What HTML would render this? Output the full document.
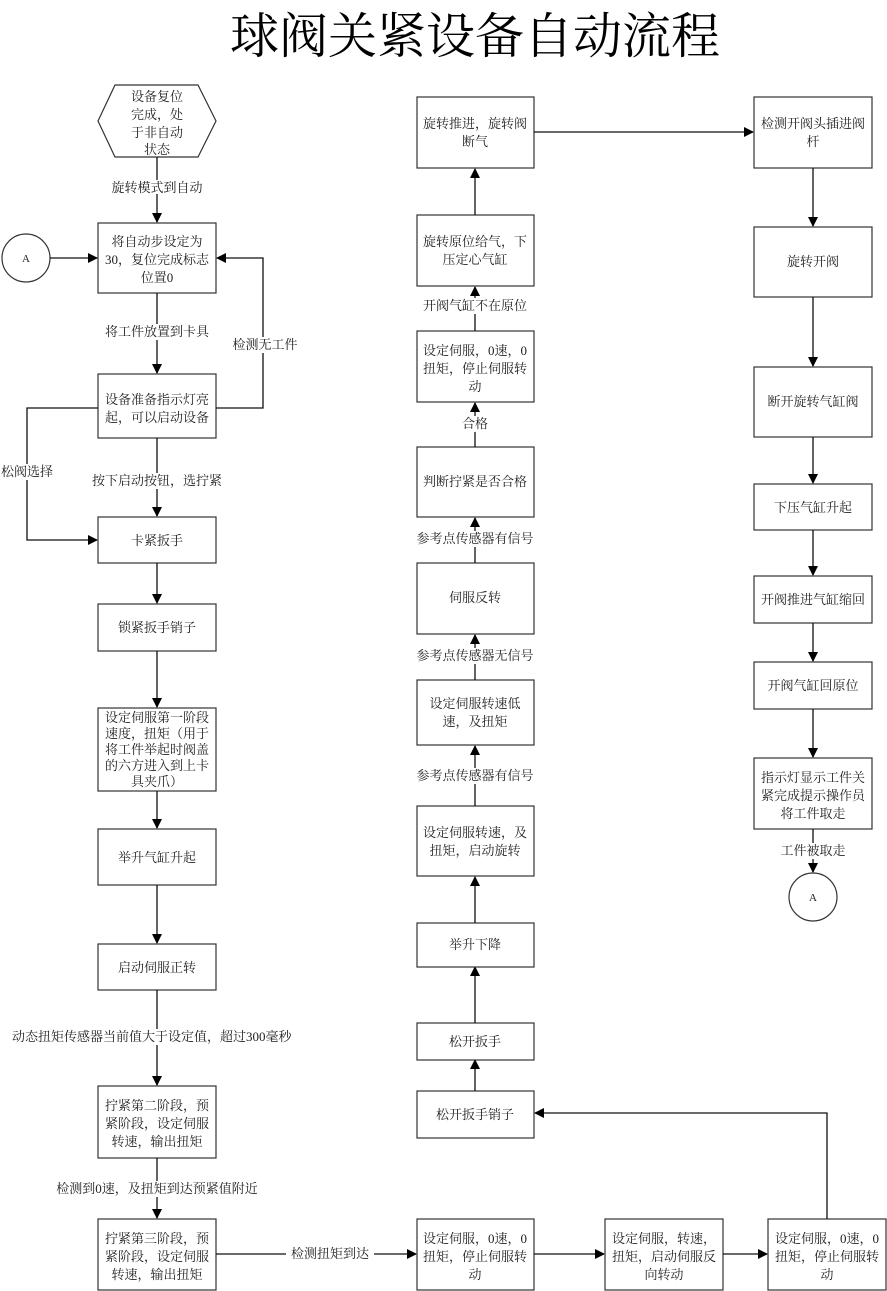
<!DOCTYPE html>
<html><head><meta charset="utf-8"><style>
html,body{margin:0;padding:0;background:#fff;}
svg{display:block;}
text{font-family:"Liberation Serif","Noto Serif CJK SC",serif;font-size:13px;fill:#222;}
.t{text-anchor:middle;}
rect,polygon,circle{fill:#fff;stroke:#333;stroke-width:1.2;}
line,polyline{stroke:#111;stroke-width:1.3;fill:none;}
</style></head><body>
<svg width="887" height="1291" viewBox="0 0 887 1291" xmlns="http://www.w3.org/2000/svg">
<defs><marker id="a" markerWidth="10" markerHeight="10" refX="9" refY="5" orient="auto" markerUnits="userSpaceOnUse"><path d="M0,0 L10,5 L0,10 z" fill="#000"/></marker></defs>
<text x="475" y="53" class="t" style="font-size:49px;fill:#000">球阀关紧设备自动流程</text>

<!-- column 1 -->
<polygon points="115,85 198,85 216,121 198,157 115,157 98,121"/>
<text class="t" x="157" y="101">设备复位</text><text class="t" x="157" y="119">完成，处</text><text class="t" x="157" y="137">于非自动</text><text class="t" x="157" y="154">状态</text>
<line x1="157" y1="157" x2="157" y2="222" marker-end="url(#a)"/>
<rect x="108" y="180" width="98" height="14" style="stroke:none"/>
<text class="t" x="157" y="192">旋转模式到自动</text>

<rect x="98" y="223" width="118" height="70"/>
<text class="t" x="157" y="246">将自动步设定为</text><text class="t" x="157" y="264">30，复位完成标志</text><text class="t" x="157" y="282">位置0</text>
<circle cx="26" cy="258" r="24"/><text class="t" x="26" y="262" style="font-size:11px">A</text>
<line x1="50" y1="258" x2="97" y2="258" marker-end="url(#a)"/>

<line x1="157" y1="293" x2="157" y2="373" marker-end="url(#a)"/>
<rect x="100" y="324" width="114" height="16" style="stroke:none"/>
<text class="t" x="157" y="336">将工件放置到卡具</text>

<rect x="98" y="374" width="118" height="64"/>
<text class="t" x="157" y="404">设备准备指示灯亮</text><text class="t" x="157" y="422">起，可以启动设备</text>
<polyline points="216,408 263,408 263,258 217,258" marker-end="url(#a)"/>
<rect x="232" y="337" width="64" height="16" style="stroke:none"/>
<text class="t" x="265" y="349">检测无工件</text>
<polyline points="98,408 27,408 27,540 97,540" marker-end="url(#a)"/>
<rect x="0" y="464" width="55" height="16" style="stroke:none"/>
<text class="t" x="27" y="476">松阀选择</text>

<line x1="157" y1="438" x2="157" y2="516" marker-end="url(#a)"/>
<rect x="90" y="473" width="134" height="16" style="stroke:none"/>
<text class="t" x="157" y="485">按下启动按钮，选拧紧</text>

<rect x="98" y="517" width="118" height="46"/><text class="t" x="157" y="545">卡紧扳手</text>
<line x1="157" y1="563" x2="157" y2="603" marker-end="url(#a)"/>
<rect x="98" y="604" width="118" height="47"/><text class="t" x="157" y="632">锁紧扳手销子</text>
<line x1="157" y1="651" x2="157" y2="707" marker-end="url(#a)"/>
<rect x="98" y="708" width="118" height="83"/>
<text class="t" x="157" y="722">设定伺服第一阶段</text><text class="t" x="157" y="738">速度，扭矩（用于</text><text class="t" x="157" y="754">将工件举起时阀盖</text><text class="t" x="157" y="770">的六方进入到上卡</text><text class="t" x="157" y="786">具夹爪）</text>
<line x1="157" y1="791" x2="157" y2="828" marker-end="url(#a)"/>
<rect x="98" y="829" width="118" height="56"/><text class="t" x="157" y="862">举升气缸升起</text>
<line x1="157" y1="885" x2="157" y2="943" marker-end="url(#a)"/>
<rect x="98" y="944" width="118" height="46"/><text class="t" x="157" y="972">启动伺服正转</text>
<line x1="157" y1="990" x2="157" y2="1085" marker-end="url(#a)"/>
<rect x="12" y="1029" width="290" height="16" style="stroke:none"/>
<text x="12" y="1041">动态扭矩传感器当前值大于设定值，超过300毫秒</text>
<rect x="98" y="1086" width="118" height="72"/>
<text class="t" x="157" y="1110">拧紧第二阶段，预</text><text class="t" x="157" y="1128">紧阶段，设定伺服</text><text class="t" x="157" y="1146">转速，输出扭矩</text>
<line x1="157" y1="1158" x2="157" y2="1218" marker-end="url(#a)"/>
<rect x="52" y="1181" width="210" height="16" style="stroke:none"/>
<text class="t" x="157" y="1193">检测到0速，及扭矩到达预紧值附近</text>
<rect x="98" y="1219" width="118" height="71"/>
<text class="t" x="157" y="1243">拧紧第三阶段，预</text><text class="t" x="157" y="1261">紧阶段，设定伺服</text><text class="t" x="157" y="1279">转速，输出扭矩</text>

<line x1="216" y1="1254" x2="416" y2="1254" marker-end="url(#a)"/>
<rect x="286" y="1246" width="88" height="16" style="stroke:none"/>
<text class="t" x="330" y="1258">检测扭矩到达</text>

<!-- bottom row -->
<rect x="417" y="1219" width="117" height="71"/>
<text class="t" x="475" y="1243">设定伺服，0速，0</text><text class="t" x="475" y="1261">扭矩，停止伺服转</text><text class="t" x="475" y="1279">动</text>
<line x1="534" y1="1254" x2="604" y2="1254" marker-end="url(#a)"/>
<rect x="605" y="1219" width="118" height="71"/>
<text class="t" x="664" y="1243">设定伺服，转速，</text><text class="t" x="664" y="1261">扭矩，启动伺服反</text><text class="t" x="664" y="1279">向转动</text>
<line x1="723" y1="1254" x2="767" y2="1254" marker-end="url(#a)"/>
<rect x="768" y="1219" width="118" height="71"/>
<text class="t" x="827" y="1243">设定伺服，0速，0</text><text class="t" x="827" y="1261">扭矩，停止伺服转</text><text class="t" x="827" y="1279">动</text>
<polyline points="827,1219 827,1113 535,1113" marker-end="url(#a)"/>

<!-- column 2 -->
<rect x="417" y="1091" width="117" height="47"/><text class="t" x="475" y="1119">松开扳手销子</text>
<line x1="475" y1="1091" x2="475" y2="1060" marker-end="url(#a)"/>
<rect x="417" y="1023" width="117" height="37"/><text class="t" x="475" y="1046">松开扳手</text>
<line x1="475" y1="1023" x2="475" y2="967" marker-end="url(#a)"/>
<rect x="417" y="923" width="117" height="44"/><text class="t" x="475" y="949">举升下降</text>
<line x1="475" y1="923" x2="475" y2="877" marker-end="url(#a)"/>
<rect x="417" y="806" width="117" height="70"/>
<text class="t" x="475" y="837">设定伺服转速，及</text><text class="t" x="475" y="855">扭矩，启动旋转</text>
<line x1="475" y1="806" x2="475" y2="746" marker-end="url(#a)"/>
<rect x="415" y="768" width="120" height="16" style="stroke:none"/>
<text class="t" x="475" y="780">参考点传感器有信号</text>
<rect x="417" y="680" width="117" height="65"/>
<text class="t" x="475" y="708">设定伺服转速低</text><text class="t" x="475" y="726">速，及扭矩</text>
<line x1="475" y1="680" x2="475" y2="635" marker-end="url(#a)"/>
<rect x="415" y="648" width="120" height="16" style="stroke:none"/>
<text class="t" x="475" y="660">参考点传感器无信号</text>
<rect x="417" y="563" width="117" height="71"/><text class="t" x="475" y="602">伺服反转</text>
<line x1="475" y1="563" x2="475" y2="518" marker-end="url(#a)"/>
<rect x="415" y="531" width="120" height="16" style="stroke:none"/>
<text class="t" x="475" y="543">参考点传感器有信号</text>
<rect x="417" y="447" width="117" height="70"/><text class="t" x="475" y="486">判断拧紧是否合格</text>
<line x1="475" y1="447" x2="475" y2="403" marker-end="url(#a)"/>
<rect x="458" y="416" width="34" height="16" style="stroke:none"/>
<text class="t" x="475" y="428">合格</text>
<rect x="417" y="331" width="117" height="71"/>
<text class="t" x="475" y="355">设定伺服，0速，0</text><text class="t" x="475" y="373">扭矩，停止伺服转</text><text class="t" x="475" y="391">动</text>
<line x1="475" y1="331" x2="475" y2="287" marker-end="url(#a)"/>
<rect x="420" y="298" width="110" height="16" style="stroke:none"/>
<text class="t" x="475" y="310">开阀气缸不在原位</text>
<rect x="417" y="215" width="117" height="71"/>
<text class="t" x="475" y="246">旋转原位给气，下</text><text class="t" x="475" y="264">压定心气缸</text>
<line x1="475" y1="215" x2="475" y2="169" marker-end="url(#a)"/>
<rect x="417" y="97" width="117" height="71"/>
<text class="t" x="475" y="128">旋转推进，旋转阀</text><text class="t" x="475" y="146">断气</text>
<line x1="534" y1="132" x2="753" y2="132" marker-end="url(#a)"/>

<!-- column 4 -->
<rect x="754" y="97" width="118" height="71"/>
<text class="t" x="813" y="128">检测开阀头插进阀</text><text class="t" x="813" y="146">杆</text>
<line x1="813" y1="168" x2="813" y2="226" marker-end="url(#a)"/>
<rect x="754" y="227" width="118" height="70"/><text class="t" x="813" y="266">旋转开阀</text>
<line x1="813" y1="297" x2="813" y2="366" marker-end="url(#a)"/>
<rect x="754" y="367" width="118" height="70"/><text class="t" x="813" y="406">断开旋转气缸阀</text>
<line x1="813" y1="437" x2="813" y2="483" marker-end="url(#a)"/>
<rect x="754" y="484" width="118" height="46"/><text class="t" x="813" y="512">下压气缸升起</text>
<line x1="813" y1="530" x2="813" y2="575" marker-end="url(#a)"/>
<rect x="754" y="576" width="118" height="47"/><text class="t" x="813" y="604">开阀推进气缸缩回</text>
<line x1="813" y1="623" x2="813" y2="661" marker-end="url(#a)"/>
<rect x="754" y="662" width="118" height="47"/><text class="t" x="813" y="690">开阀气缸回原位</text>
<line x1="813" y1="709" x2="813" y2="757" marker-end="url(#a)"/>
<rect x="754" y="758" width="118" height="71"/>
<text class="t" x="813" y="782">指示灯显示工件关</text><text class="t" x="813" y="800">紧完成提示操作员</text><text class="t" x="813" y="818">将工件取走</text>
<line x1="813" y1="829" x2="813" y2="872" marker-end="url(#a)"/>
<rect x="775" y="843" width="76" height="16" style="stroke:none"/>
<text class="t" x="813" y="855">工件被取走</text>
<circle cx="813" cy="897" r="24"/><text class="t" x="813" y="901" style="font-size:11px">A</text>
</svg>
</body></html>
